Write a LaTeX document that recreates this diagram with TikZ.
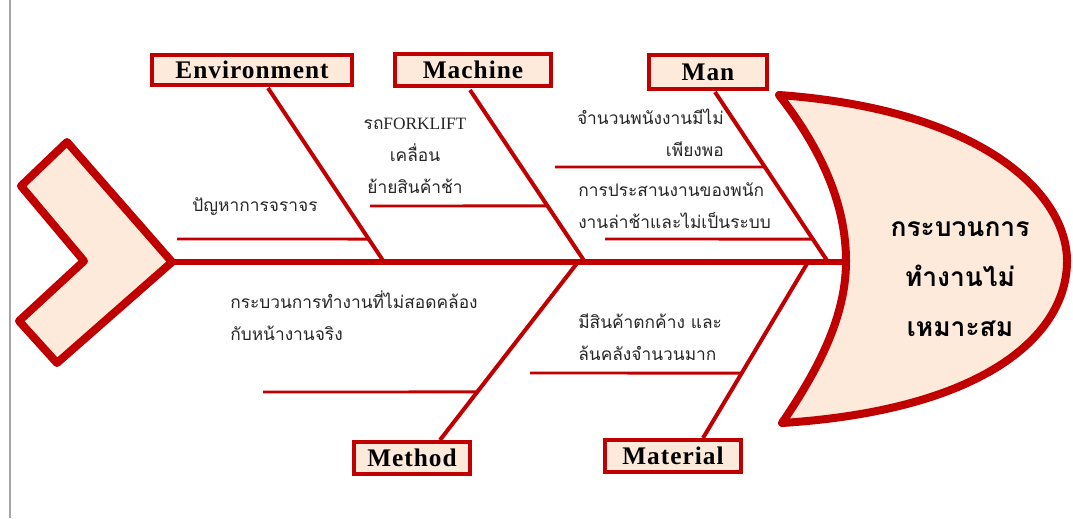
\documentclass[tikz,border=0pt]{standalone}
\usepackage{fontspec}
\setmainfont{Liberation Serif}
\newfontfamily\thai[Script=Thai]{Loma}
\newfontfamily\lserif{Liberation Serif}
\newfontfamily\catfont[LetterSpace=4]{Liberation Serif}
\usetikzlibrary{calc}
\definecolor{fbred}{HTML}{C00000}
\definecolor{fbpeach}{HTML}{FDEADA}
\definecolor{fbgrey}{HTML}{A6A6A6}
\tikzset{
  catbox/.style={draw=fbred, line width=3pt, fill=fbpeach, inner sep=0pt,
    font=\catfont\bfseries\fontsize{19}{21}\selectfont},
  bone/.style={draw=fbred, line width=3pt},
  subbone/.style={draw=fbred, line width=2.2pt},
  cause/.style={font=\thai\fontsize{13}{24}\selectfont, inner sep=0pt, text=black!85},
  headtext/.style={font=\thai\bfseries\fontsize{19.8}{37.5}\selectfont, inner sep=0pt, align=center},
}
\begin{document}
\begin{tikzpicture}[x=0.75pt,y=-0.75pt]
\useasboundingbox (0,0) rectangle (1073,518);
% grey margin line
\draw[fbgrey, line width=1.5pt] (10,0) -- (10,518);
% tail chevron
\draw[fbred, fill=fbpeach, line width=6pt, line join=round]
  (67,142) -- (172,262) -- (57,363) -- (19,321) -- (84,261) -- (21,186) -- cycle;
% head
\draw[fbred, fill=fbpeach, line width=6pt, line join=round]
  (779,95) .. controls (985,110) and (1067,195) .. (1067,261)
  .. controls (1067,335) and (985,410) .. (782,423)
  .. controls (825,360) and (846,310) .. (846,261)
  .. controls (846,205) and (822,150) .. (779,95) -- cycle;
\coordinate (tail) at (172,262);
\coordinate (headpt) at (846,262);
\draw[fbred, line width=4.5pt] (tail) -- (headpt);
\node[headtext] (effect) at (960,279) {กระบวนการ\\ทำงานไม่\\เหมาะสม};
% category boxes
\node[catbox, minimum width=150pt, minimum height=22.5pt] (env) at (252,70) {Environment};
\node[catbox, minimum width=117pt, minimum height=24pt] (mac) at (473,70) {Machine};
\node[catbox, minimum width=89pt, minimum height=26pt] (man) at (708,72) {Man};
\node[catbox, minimum width=87pt, minimum height=24pt] (met) at (412,458) {Method};
\node[catbox, minimum width=102pt, minimum height=24pt] (mat) at (673,456) {Material};
% bone ends on spine
\coordinate (envS) at (384,262);
\coordinate (macS) at (585,262);
\coordinate (manS) at (828,262);
\coordinate (metS) at (578,262);
\coordinate (matS) at (808,262);
\coordinate (envT) at (268,88);
\coordinate (macT) at (470,90);
\coordinate (manT) at (715,92);
\coordinate (metT) at (440,440);
\coordinate (matT) at (703,438);
\draw[bone] (envT) -- (envS);
\draw[bone] (macT) -- (macS);
\draw[bone] (manT) -- (manS);
\draw[bone] (metS) -- (metT);
\draw[bone] (matS) -- (matT);
% sub-bones
\coordinate (envL) at (177,239);
\coordinate (macL) at (370,206);
\coordinate (man1L) at (555,167);
\coordinate (man2L) at (605,239);
\coordinate (metL) at (263,392);
\coordinate (matL) at (530,373);
\draw[subbone] (envL) -- ($(envT)!0.868!(envS)$);
\draw[subbone] (macL) -- ($(macT)!0.674!(macS)$);
\draw[subbone] (man1L) -- ($(manT)!0.441!(manS)$);
\draw[subbone] (man2L) -- ($(manT)!0.865!(manS)$);
\draw[subbone] (metL) -- ($(metS)!0.730!(metT)$);
\draw[subbone] (matL) -- ($(matS)!0.631!(matT)$);
% cause labels
\node[cause, anchor=base] (c1) at (255,211) {ปัญหาการจราจร};
\node[cause, anchor=base, align=center] (c2) at (415,193) {รถ{\lserif FORKLIFT}\\เคลื่อน\\ย้ายสินค้าช้า};
\node[cause, anchor=base east, align=right] (c3) at (724,156) {จำนวนพนังงานมีไม่\\เพียงพอ};
\node[cause, anchor=base west, align=left] (c4) at (578,228) {การประสานงานของพนัก\\งานล่าช้าและไม่เป็นระบบ};
\node[cause, anchor=base west, align=left] (c5) at (230,340) {กระบวนการทำงานที่ไม่สอดคล้อง\\กับหน้างานจริง};
\node[cause, anchor=base west, align=left] (c6) at (578,360) {มีสินค้าตกค้าง และ\\ล้นคลังจำนวนมาก};
\end{tikzpicture}
\end{document}
